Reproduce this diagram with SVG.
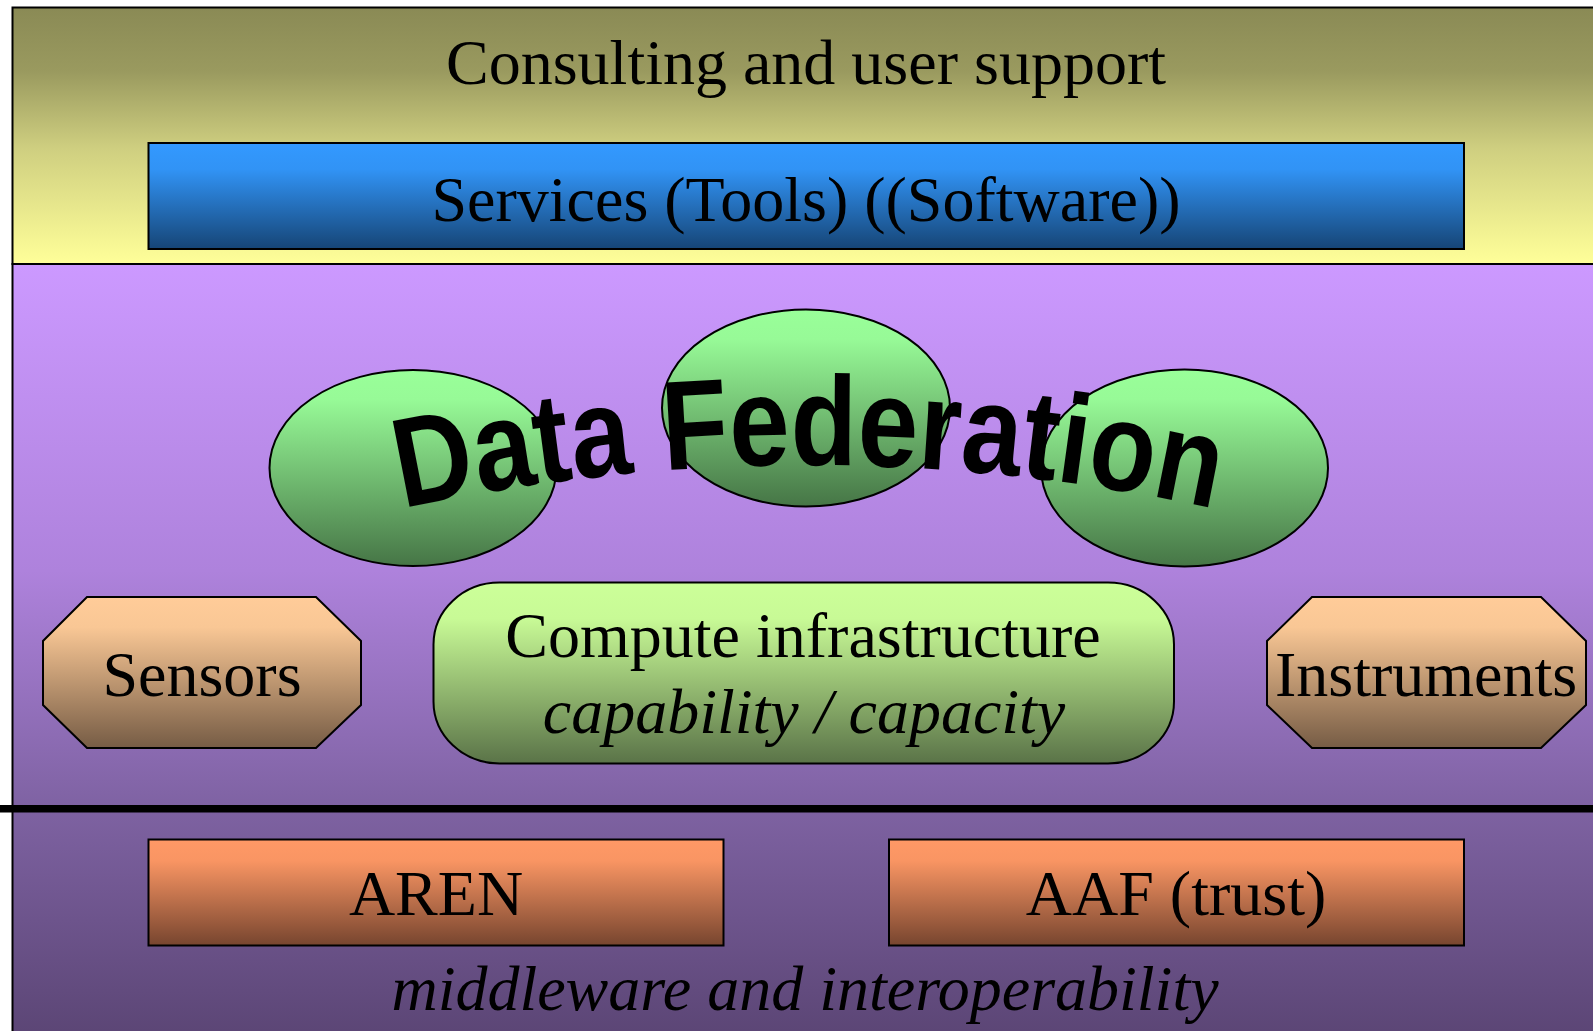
<svg xmlns="http://www.w3.org/2000/svg" width="1593" height="1031" viewBox="0 0 1593 1031">
  <defs>
    <linearGradient id="gTop" x1="0" y1="0" x2="0" y2="1">
      <stop offset="0" stop-color="#8a8a55"/>
      <stop offset="0.25" stop-color="#9a9a5f"/>
      <stop offset="0.55" stop-color="#cfcf80"/>
      <stop offset="1" stop-color="#ffff99"/>
    </linearGradient>
    <linearGradient id="gPurple" gradientUnits="userSpaceOnUse" x1="0" y1="264" x2="0" y2="1031">
      <stop offset="0" stop-color="#cc99ff"/>
      <stop offset="0.40" stop-color="#ae82dc"/>
      <stop offset="0.71" stop-color="#7e62a2"/>
      <stop offset="1" stop-color="#5c4676"/>
    </linearGradient>
    <linearGradient id="gBlue" x1="0" y1="0" x2="0" y2="1">
      <stop offset="0" stop-color="#3399ff"/>
      <stop offset="0.25" stop-color="#3193f5"/>
      <stop offset="1" stop-color="#164576"/>
    </linearGradient>
    <linearGradient id="gGreen" x1="0" y1="0" x2="0" y2="1">
      <stop offset="0" stop-color="#99ff99"/>
      <stop offset="0.15" stop-color="#97fa97"/>
      <stop offset="1" stop-color="#467546"/>
    </linearGradient>
    <linearGradient id="gLime" x1="0" y1="0" x2="0" y2="1">
      <stop offset="0" stop-color="#ccff99"/>
      <stop offset="0.2" stop-color="#c8fa96"/>
      <stop offset="1" stop-color="#5a7348"/>
    </linearGradient>
    <linearGradient id="gPeach" x1="0" y1="0" x2="0" y2="1">
      <stop offset="0" stop-color="#ffcc99"/>
      <stop offset="0.2" stop-color="#f9c795"/>
      <stop offset="1" stop-color="#765c45"/>
    </linearGradient>
    <linearGradient id="gOrange" x1="0" y1="0" x2="0" y2="1">
      <stop offset="0" stop-color="#ff9966"/>
      <stop offset="0.2" stop-color="#f99563"/>
      <stop offset="1" stop-color="#77452f"/>
    </linearGradient>
    <path id="arch" d="M 288.5 537.1 A 1911.5 1911.5 0 0 1 1328.5 537.1"/>
    <style>
      .edge { stroke: #000; stroke-width: 2; }
      .serif { font-family: "Liberation Serif", "Times New Roman", serif; font-size: 64px; fill: #000; text-anchor: middle; }
      .it { font-style: italic; }
      .arch { font-family: "Liberation Sans", Arial, sans-serif; font-weight: bold; font-size: 127px; fill: #000; }
    </style>
  </defs>

  <rect x="0" y="0" width="1593" height="1031" fill="#ffffff"/>

  <!-- layer bands -->
  <g id="band-support">
    <rect x="12.5" y="7.5" width="1600" height="256.5" fill="url(#gTop)" class="edge"/>
    <text class="serif" x="806" y="84">Consulting and user support</text>
  </g>
  <g id="band-platform">
    <rect x="12.5" y="264" width="1600" height="790" fill="url(#gPurple)" class="edge"/>
  </g>

  <!-- divider between platform and network layers -->
  <g id="divider">
    <line x1="0" y1="808.7" x2="1593" y2="808.7" stroke="#000" stroke-width="7.5"/>
  </g>

  <g id="services">
    <rect x="148.5" y="143" width="1315.5" height="106" fill="url(#gBlue)" class="edge"/>
    <text class="serif" x="806" y="221">Services (Tools) ((Software))</text>
  </g>

  <g id="data-federation">
    <ellipse cx="413" cy="468" rx="143.5" ry="98" fill="url(#gGreen)" class="edge" stroke-width="1.5"/>
    <ellipse cx="806" cy="408" rx="144" ry="98.5" fill="url(#gGreen)" class="edge" stroke-width="1.5"/>
    <ellipse cx="1184.5" cy="468" rx="143.5" ry="98.5" fill="url(#gGreen)" class="edge" stroke-width="1.5"/>
    <text class="arch"><textPath href="#arch" startOffset="50%" text-anchor="middle" textLength="818" lengthAdjust="spacingAndGlyphs">Data Federation</textPath></text>
  </g>

  <g id="sensors">
    <polygon points="87,597 316,597 361,641 361,705 316,748 87,748 43,705 43,641" fill="url(#gPeach)" class="edge" stroke-width="1.5"/>
    <text class="serif" x="202" y="696">Sensors</text>
  </g>

  <g id="compute">
    <rect x="433.5" y="582.5" width="740.5" height="181" rx="66" ry="62" fill="url(#gLime)" class="edge" stroke-width="1.5"/>
    <text class="serif" x="803" y="657">Compute infrastructure</text>
    <text class="serif it" x="804" y="733">capability / capacity</text>
  </g>

  <g id="instruments">
    <polygon points="1312,597 1541,597 1586,641 1586,705 1541,748 1312,748 1267,705 1267,641" fill="url(#gPeach)" class="edge" stroke-width="1.5"/>
    <text class="serif" x="1426" y="696">Instruments</text>
  </g>

  <g id="aren">
    <rect x="148.5" y="839.5" width="575" height="106" fill="url(#gOrange)" class="edge" stroke-width="1.5"/>
    <text class="serif" x="436" y="915">AREN</text>
  </g>

  <g id="aaf">
    <rect x="889" y="839.5" width="575" height="106" fill="url(#gOrange)" class="edge" stroke-width="1.5"/>
    <text class="serif" x="1176" y="915">AAF (trust)</text>
  </g>

  <g id="middleware-label">
    <text class="serif it" x="805" y="1010" font-size="65">middleware and interoperability</text>
  </g>
</svg>
